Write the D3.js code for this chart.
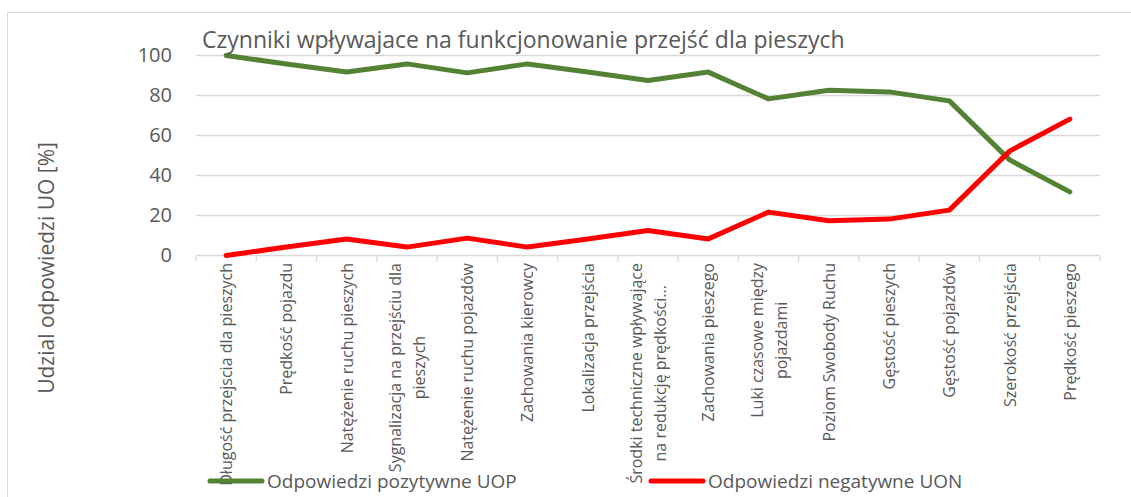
<!DOCTYPE html>
<html lang="pl">
<head>
<meta charset="utf-8">
<title>Czynniki</title>
<script src="https://cdn.jsdelivr.net/npm/d3@7"></script>
<style>
  body { margin: 0; background: #fff; }
  text { font-family: "Open Sans", sans-serif; fill: #595959; }
</style>
</head>
<body>
<script>
var w = 1131, h = 497;

var categories = [
  "Długość przejscia dla pieszych",
  "Prędkość pojazdu",
  "Natężenie ruchu pieszych",
  "Sygnalizacja na przejściu dla\npieszych",
  "Natężenie ruchu pojazdów",
  "Zachowania kierowcy",
  "Lokalizacja przejścia",
  "Środki techniczne wpływające\nna redukcję prędkości...",
  "Zachowania pieszego",
  "Luki czasowe między\npojazdami",
  "Poziom Swobody Ruchu",
  "Gęstość pieszych",
  "Gęstość pojazdów",
  "Szerokość przejścia",
  "Prędkość pieszego"
];
var positive = [100, 95.8, 91.7, 95.8, 91.3, 95.8, 91.7, 87.5, 91.7, 78.3, 82.6, 81.8, 77.3, 47.8, 31.8];
var negative = [0, 4.2, 8.3, 4.2, 8.7, 4.2, 8.3, 12.5, 8.3, 21.7, 17.4, 18.2, 22.7, 52.2, 68.2];
var yTicks = [0, 20, 40, 60, 80, 100];
var seriesNames = ["Odpowiedzi pozytywne UOP", "Odpowiedzi negatywne UON"];
var seriesColors = ["#548235", "#ff0000"];

var svg = d3.select("body").append("svg")
  .attr("width", w)
  .attr("height", h);

// chart frame
svg.append("rect")
  .attr("x", 7.5).attr("y", 12.5)
  .attr("width", 1140).attr("height", 500)
  .attr("fill", "none").attr("stroke", "#d9d9d9");

var x = d3.scaleBand()
  .domain(categories)
  .range([196, 1100]);

var y = d3.scaleLinear()
  .domain([0, 100])
  .range([255.5, 55.5]);

// gridlines
svg.append("g")
  .selectAll("line")
  .data(yTicks.slice(1))
  .enter()
  .append("line")
  .attr("x1", 196).attr("x2", 1100)
  .attr("y1", function(d) { return y(d); })
  .attr("y2", function(d) { return y(d); })
  .attr("stroke", "#d9d9d9")
  .attr("stroke-width", 1.3);

// y axis labels
var yAxis = svg.append("g")
  .attr("transform", "translate(184,0)")
  .call(d3.axisLeft(y).tickValues(yTicks).tickSize(0).tickPadding(12));
yAxis.select(".domain").remove();
yAxis.selectAll("text")
  .style("font-size", "20px")
  .style("font-family", "'Open Sans', sans-serif")
  .attr("fill", "#595959");

// x axis
var xAxis = svg.append("g")
  .attr("transform", "translate(0," + y(0) + ")");
xAxis.append("line")
  .attr("x1", 196).attr("x2", 1100)
  .attr("stroke", "#d9d9d9").attr("stroke-width", 1.3);
xAxis.selectAll(".tk")
  .data(categories.concat(["end"]))
  .enter()
  .append("line")
  .attr("class", "tk")
  .attr("x1", function(d, i) { return i < categories.length ? x(d) : x.range()[1]; })
  .attr("x2", function(d, i) { return i < categories.length ? x(d) : x.range()[1]; })
  .attr("y1", 0).attr("y2", 6)
  .attr("stroke", "#d9d9d9").attr("stroke-width", 1.3);

var lab = svg.append("g")
  .selectAll("text")
  .data(categories)
  .enter()
  .append("text")
  .attr("transform", function(d) {
    return "translate(" + (x(d) + x.bandwidth() / 2) + ",263) rotate(-90)";
  })
  .attr("text-anchor", "end")
  .style("font-size", "16px");
lab.each(function(d) {
  var lines = d.split("\n");
  var t = d3.select(this);
  lines.forEach(function(s, i) {
    var dy = lines.length === 1 ? 6 : (i === 0 ? -6 : 18);
    t.append("tspan")
      .attr("x", 0)
      .attr("y", dy)
      .text(s);
  });
});
// second line of wrapped labels is centred under the first
lab.each(function(d) {
  var tspans = d3.select(this).selectAll("tspan");
  if (tspans.size() > 1) {
    var n0 = tspans.nodes()[0], n1 = tspans.nodes()[1];
    var l0 = n0.getComputedTextLength(), l1 = n1.getComputedTextLength();
    d3.select(n1).attr("x", -(l0 - l1) / 2);
  }
});

// lines
var line = d3.line()
  .x(function(d, i) { return x(categories[i]) + x.bandwidth() / 2; })
  .y(function(d) { return y(d); });

[positive, negative].forEach(function(s, k) {
  svg.append("path")
    .datum(s)
    .attr("d", line)
    .attr("fill", "none")
    .attr("stroke", seriesColors[k])
    .attr("stroke-width", 5)
    .attr("stroke-linejoin", "round")
    .attr("stroke-linecap", "round");
});

// title
svg.append("text")
  .attr("x", 202).attr("y", 48)
  .style("font-size", "23px")
  .text("Czynniki wpływajace na funkcjonowanie przejść dla pieszych");

// y title
svg.append("text")
  .attr("transform", "translate(54,268) rotate(-90)")
  .attr("text-anchor", "middle")
  .style("font-size", "21px")
  .text("Udzial odpowiedzi UO [%]");

// legend
var legX = [210, 651];
var leg = svg.append("g")
  .selectAll("g")
  .data(seriesNames)
  .enter()
  .append("g")
  .attr("transform", function(d, i) { return "translate(" + legX[i] + ",481)"; });
leg.append("line")
  .attr("x1", 0).attr("x2", 52)
  .attr("stroke", function(d, i) { return seriesColors[i]; })
  .attr("stroke-width", 5)
  .attr("stroke-linecap", "round");
leg.append("text")
  .attr("x", 57).attr("y", 7)
  .style("font-size", "19px")
  .text(function(d) { return d; });
</script>
</body>
</html>
